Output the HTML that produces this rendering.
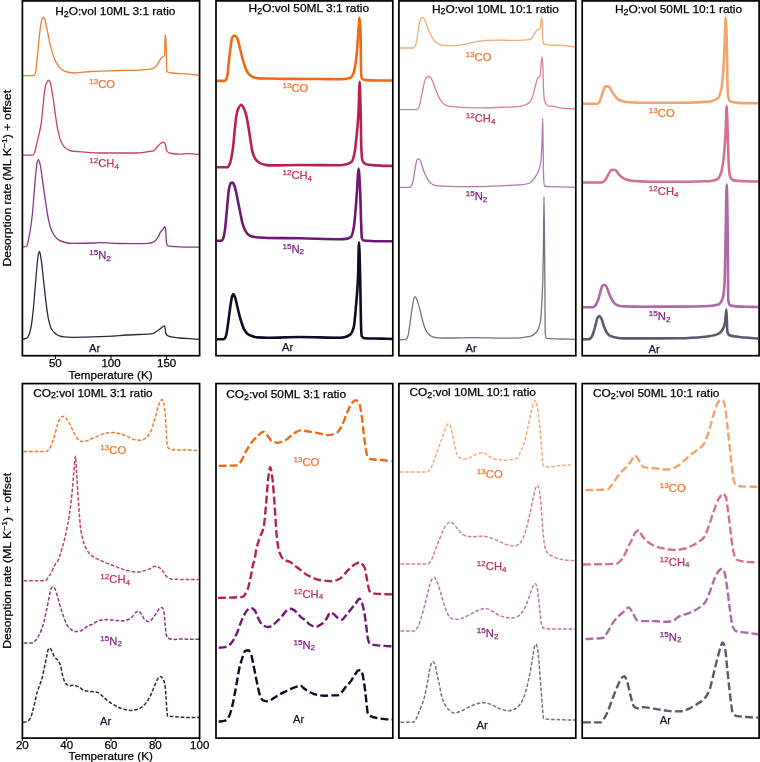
<!DOCTYPE html>
<html><head><meta charset="utf-8"><style>
html,body{margin:0;padding:0;background:#fff;}
body{width:760px;height:762px;overflow:hidden;font-family:"Liberation Sans",sans-serif;}
svg{display:block;will-change:transform;}
</style></head><body>
<svg width="760" height="762" viewBox="0 0 760 762">
<rect width="760" height="762" fill="#fff"/>
<defs>
<clipPath id="c0"><rect x="22.4" y="0.9" width="177.20" height="354.80"/></clipPath>
<clipPath id="c1"><rect x="216.0" y="0.9" width="176.80" height="354.80"/></clipPath>
<clipPath id="c2"><rect x="398.9" y="0.9" width="176.90" height="354.80"/></clipPath>
<clipPath id="c3"><rect x="582.2" y="0.9" width="176.90" height="354.80"/></clipPath>
<clipPath id="c4"><rect x="22.4" y="383.6" width="177.20" height="354.50"/></clipPath>
<clipPath id="c5"><rect x="216.0" y="383.6" width="176.80" height="354.50"/></clipPath>
<clipPath id="c6"><rect x="398.9" y="383.6" width="176.90" height="354.50"/></clipPath>
<clipPath id="c7"><rect x="582.2" y="383.6" width="176.90" height="354.50"/></clipPath>
</defs>
<path d="M22.40,75.70C26.17,75.70 29.93,75.70 33.70,75.70C34.33,75.70 34.97,74.34 35.60,72.50C36.07,71.14 36.53,65.01 37.00,60.60C37.43,56.50 37.87,51.23 38.30,46.80C38.77,42.03 39.23,36.89 39.70,33.00C40.17,29.11 40.63,25.16 41.10,22.90C41.57,20.64 42.03,18.23 42.50,17.80C42.87,17.46 43.23,17.20 43.60,17.20C44.00,17.20 44.40,18.25 44.80,19.20C45.23,20.23 45.67,22.75 46.10,24.70C46.73,27.55 47.37,30.75 48.00,33.90C48.60,36.88 49.20,40.46 49.80,43.10C50.43,45.88 51.07,48.22 51.70,50.40C52.60,53.49 53.50,56.54 54.40,58.70C55.33,60.94 56.27,62.69 57.20,64.20C58.10,65.65 59.00,67.01 59.90,67.90C61.13,69.12 62.37,70.11 63.60,70.70C64.83,71.29 66.07,71.75 67.30,72.00C69.87,72.51 72.43,73.00 75.00,73.00C80.33,73.00 85.67,71.80 91.00,71.50C98.90,71.06 106.80,70.81 114.70,70.60C122.60,70.39 130.50,70.38 138.40,70.10C142.37,69.96 146.33,69.77 150.30,69.20C152.27,68.92 154.23,67.87 156.20,66.30C157.37,65.37 158.53,62.00 159.70,60.40C160.73,58.98 161.77,57.64 162.80,56.80C163.37,56.34 163.93,56.53 164.50,55.70C164.73,55.36 164.97,35.76 165.20,35.50C165.37,35.31 165.53,35.20 165.70,35.20C165.93,35.20 166.17,47.15 166.40,55.00C166.53,59.49 166.67,70.71 166.80,71.00C167.37,72.22 167.93,72.33 168.50,72.50C169.53,72.80 170.57,72.90 171.60,73.00C176.33,73.48 181.07,73.52 185.80,73.90C190.20,74.25 194.60,74.83 199.00,75.30" fill="none" stroke="#f07c30" stroke-width="1.3" stroke-linejoin="round" clip-path="url(#c0)"/>
<path d="M22.40,155.10C26.00,155.10 29.60,155.10 33.20,155.10C33.77,155.10 34.33,153.26 34.90,151.70C35.50,150.04 36.10,146.15 36.70,143.60C37.47,140.35 38.23,137.82 39.00,134.40C39.77,130.98 40.53,127.94 41.30,122.80C41.87,119.00 42.43,111.98 43.00,106.60C43.57,101.22 44.13,93.79 44.70,90.50C45.30,87.01 45.90,84.23 46.50,83.00C47.20,81.57 47.90,80.20 48.60,80.20C49.23,80.20 49.87,81.81 50.50,83.50C51.07,85.01 51.63,89.46 52.20,92.80C52.80,96.33 53.40,100.16 54.00,104.30C54.57,108.21 55.13,113.19 55.70,117.00C56.47,122.15 57.23,127.41 58.00,130.90C58.97,135.29 59.93,139.08 60.90,141.30C62.07,143.98 63.23,145.97 64.40,147.10C66.13,148.77 67.87,150.07 69.60,150.50C72.40,151.19 75.20,151.45 78.00,151.70C85.33,152.35 92.67,153.00 100.00,153.00C108.77,153.00 117.53,153.00 126.30,153.00C130.87,153.00 135.43,152.97 140.00,152.90C142.63,152.86 145.27,152.09 147.90,151.70C149.73,151.43 151.57,151.42 153.40,150.90C154.20,150.67 155.00,149.35 155.80,148.50C156.83,147.41 157.87,145.98 158.90,145.00C159.70,144.24 160.50,143.38 161.30,143.00C162.10,142.62 162.90,142.20 163.70,142.20C164.23,142.20 164.77,143.09 165.30,144.20C165.67,144.96 166.03,148.85 166.40,149.70C167.07,151.24 167.73,152.14 168.40,152.50C169.47,153.07 170.53,153.36 171.60,153.50C174.23,153.85 176.87,154.10 179.50,154.10C182.13,154.10 184.77,153.70 187.40,153.70C191.27,153.70 195.13,154.10 199.00,154.30" fill="none" stroke="#c34266" stroke-width="1.3" stroke-linejoin="round" clip-path="url(#c0)"/>
<path d="M22.50,247.10C23.87,246.90 25.23,246.93 26.60,246.50C27.27,246.29 27.93,242.14 28.60,239.20C29.23,236.41 29.87,232.80 30.50,228.70C31.17,224.38 31.83,219.44 32.50,213.00C33.03,207.84 33.57,199.67 34.10,193.30C34.67,186.53 35.23,179.13 35.80,173.60C36.23,169.37 36.67,164.03 37.10,162.50C37.53,160.97 37.97,159.60 38.40,159.60C39.07,159.60 39.73,162.86 40.40,165.70C41.03,168.39 41.67,174.42 42.30,178.90C42.97,183.61 43.63,188.73 44.30,193.30C44.97,197.87 45.63,202.15 46.30,206.40C46.93,210.44 47.57,215.13 48.20,218.20C49.10,222.56 50.00,226.30 50.90,228.70C52.00,231.64 53.10,233.79 54.20,235.30C55.70,237.36 57.20,239.02 58.70,239.90C60.90,241.19 63.10,242.06 65.30,242.50C67.53,242.95 69.77,243.40 72.00,243.40C79.60,243.40 87.20,243.25 94.80,243.00C96.47,242.94 98.13,242.60 99.80,242.60C106.43,242.60 113.07,243.39 119.70,243.50C126.47,243.61 133.23,243.70 140.00,243.70C142.63,243.70 145.27,243.58 147.90,243.40C149.73,243.27 151.57,242.83 153.40,242.10C154.20,241.78 155.00,240.92 155.80,240.10C156.60,239.28 157.40,238.19 158.20,236.90C158.97,235.66 159.73,233.34 160.50,232.20C161.30,231.01 162.10,230.50 162.90,229.40C163.47,228.62 164.03,226.60 164.60,226.60C164.97,226.60 165.33,227.88 165.70,229.80C165.93,231.02 166.17,239.91 166.40,241.70C166.67,243.75 166.93,245.48 167.20,245.60C168.67,246.25 170.13,246.28 171.60,246.40C174.23,246.62 176.87,246.72 179.50,246.80C186.00,247.00 192.50,247.07 199.00,247.20" fill="none" stroke="#853989" stroke-width="1.3" stroke-linejoin="round" clip-path="url(#c0)"/>
<path d="M22.50,339.20C23.87,338.93 25.23,338.91 26.60,338.40C27.47,338.08 28.33,336.22 29.20,334.20C29.87,332.65 30.53,329.88 31.20,326.40C31.87,322.92 32.53,316.91 33.20,310.60C33.83,304.61 34.47,295.75 35.10,288.30C35.77,280.45 36.43,271.01 37.10,264.70C37.53,260.60 37.97,255.85 38.40,254.20C38.77,252.80 39.13,251.40 39.50,251.40C40.00,251.40 40.50,255.21 41.00,258.10C41.67,261.95 42.33,269.29 43.00,275.20C43.67,281.11 44.33,287.80 45.00,293.60C45.63,299.11 46.27,304.93 46.90,309.30C47.57,313.90 48.23,318.39 48.90,321.10C49.77,324.63 50.63,327.50 51.50,329.00C52.60,330.91 53.70,331.93 54.80,332.90C56.10,334.04 57.40,335.12 58.70,335.60C60.47,336.26 62.23,336.75 64.00,336.90C66.67,337.13 69.33,337.30 72.00,337.30C76.67,337.30 81.33,337.19 86.00,337.10C90.67,337.01 95.33,336.86 100.00,336.70C104.40,336.55 108.80,336.36 113.20,336.10C117.57,335.84 121.93,335.23 126.30,335.00C130.70,334.77 135.10,334.71 139.50,334.50C143.87,334.30 148.23,334.24 152.60,333.70C154.80,333.43 157.00,330.94 159.20,329.50C161.03,328.30 162.87,325.80 164.70,325.80C165.07,325.80 165.43,332.66 165.80,333.40C166.67,335.14 167.53,335.79 168.40,336.10C171.90,337.36 175.40,337.65 178.90,338.00C183.30,338.44 187.70,338.63 192.10,338.90C194.40,339.04 196.70,339.17 199.00,339.30" fill="none" stroke="#2c2740" stroke-width="1.3" stroke-linejoin="round" clip-path="url(#c0)"/>
<path d="M216.90,80.90C219.63,80.90 222.37,80.90 225.10,80.90C225.87,80.90 226.63,78.43 227.40,75.40C227.93,73.29 228.47,65.12 229.00,60.40C229.53,55.68 230.07,50.68 230.60,47.00C231.13,43.32 231.67,38.66 232.20,37.60C232.70,36.61 233.20,35.80 233.70,35.80C234.50,35.80 235.30,36.03 236.10,36.40C236.77,36.71 237.43,38.81 238.10,40.70C238.73,42.50 239.37,46.03 240.00,48.60C240.80,51.85 241.60,55.22 242.40,58.10C243.20,60.98 244.00,63.79 244.80,66.00C245.57,68.12 246.33,70.24 247.10,71.50C248.17,73.25 249.23,74.61 250.30,75.40C251.87,76.56 253.43,77.51 255.00,77.80C256.83,78.14 258.67,78.35 260.50,78.40C263.00,78.46 265.50,78.46 268.00,78.50C275.33,78.61 282.67,78.86 290.00,78.90C300.00,78.96 310.00,78.94 320.00,79.00C326.67,79.04 333.33,79.30 340.00,79.30C343.50,79.30 347.00,78.84 350.50,77.70C351.53,77.36 352.57,75.49 353.60,73.00C354.30,71.31 355.00,67.22 355.70,62.50C356.23,58.91 356.77,53.00 357.30,46.70C357.67,42.37 358.03,36.07 358.40,31.00C358.73,26.39 359.07,17.60 359.40,17.60C359.77,17.60 360.13,22.21 360.50,31.00C360.60,33.40 360.70,45.00 360.80,52.00C360.90,59.00 361.00,71.63 361.10,73.00C361.40,77.11 361.70,78.58 362.00,78.80C363.40,79.83 364.80,80.01 366.20,80.10C370.80,80.39 375.40,80.50 380.00,80.50C384.33,80.50 388.67,80.50 393.00,80.50" fill="none" stroke="#ee6a14" stroke-width="2.6" stroke-linejoin="round" clip-path="url(#c1)"/>
<path d="M216.90,167.30C220.40,167.30 223.90,167.30 227.40,167.30C228.20,167.30 229.00,165.63 229.80,163.90C230.80,161.74 231.80,155.82 232.80,149.10C233.47,144.62 234.13,135.68 234.80,129.40C235.27,125.00 235.73,119.33 236.20,116.70C236.87,112.94 237.53,110.17 238.20,108.80C239.20,106.74 240.20,104.80 241.20,104.80C242.00,104.80 242.80,106.43 243.60,107.80C244.43,109.23 245.27,111.66 246.10,114.70C246.90,117.62 247.70,122.83 248.50,127.50C249.17,131.39 249.83,136.21 250.50,140.30C251.17,144.39 251.83,149.78 252.50,152.10C253.47,155.47 254.43,157.63 255.40,159.00C256.73,160.89 258.07,162.21 259.40,162.90C261.37,163.92 263.33,164.59 265.30,164.90C266.87,165.15 268.43,165.40 270.00,165.40C280.00,165.40 290.00,165.00 300.00,165.00C313.33,165.00 326.67,165.30 340.00,165.30C342.20,165.30 344.40,164.76 346.60,164.20C348.33,163.76 350.07,163.22 351.80,161.60C352.67,160.79 353.53,157.57 354.40,153.70C355.07,150.72 355.73,144.29 356.40,138.00C357.07,131.71 357.73,125.38 358.40,114.40C358.83,107.26 359.27,81.80 359.70,81.80C360.03,81.80 360.37,100.49 360.70,114.40C360.90,122.74 361.10,142.75 361.30,147.20C361.63,154.62 361.97,159.55 362.30,160.30C363.60,163.21 364.90,163.92 366.20,164.20C370.80,165.20 375.40,165.38 380.00,165.60C384.33,165.80 388.67,165.87 393.00,166.00" fill="none" stroke="#b8214b" stroke-width="2.6" stroke-linejoin="round" clip-path="url(#c1)"/>
<path d="M217.00,240.70C218.57,240.70 220.13,240.70 221.70,240.70C222.30,240.70 222.90,239.13 223.50,237.50C223.97,236.23 224.43,233.30 224.90,230.10C225.37,226.90 225.83,221.28 226.30,216.40C226.77,211.52 227.23,205.40 227.70,200.70C228.13,196.34 228.57,190.87 229.00,188.80C229.63,185.77 230.27,183.10 230.90,182.90C231.50,182.71 232.10,182.60 232.70,182.60C233.30,182.60 233.90,184.48 234.50,186.00C235.13,187.61 235.77,190.60 236.40,193.40C237.00,196.06 237.60,199.62 238.20,202.60C238.83,205.75 239.47,208.65 240.10,211.80C240.70,214.78 241.30,218.63 241.90,221.00C242.67,224.03 243.43,226.56 244.20,228.30C245.27,230.72 246.33,232.81 247.40,233.80C248.93,235.22 250.47,236.27 252.00,236.60C254.47,237.13 256.93,237.30 259.40,237.50C262.27,237.73 265.13,237.95 268.00,238.00C278.67,238.20 289.33,238.16 300.00,238.30C313.33,238.47 326.67,239.20 340.00,239.20C341.97,239.20 343.93,239.08 345.90,238.90C347.67,238.74 349.43,238.15 351.20,236.70C352.00,236.04 352.80,232.57 353.60,228.50C354.17,225.61 354.73,219.16 355.30,213.10C355.90,206.68 356.50,197.90 357.10,189.50C357.57,182.97 358.03,168.60 358.50,168.60C359.03,168.60 359.57,179.12 360.10,189.50C360.40,195.34 360.70,210.79 361.00,219.00C361.27,226.30 361.53,237.08 361.80,237.90C362.40,239.74 363.00,240.43 363.60,240.50C369.07,241.11 374.53,241.20 380.00,241.20C384.33,241.20 388.67,241.20 393.00,241.20" fill="none" stroke="#701674" stroke-width="2.6" stroke-linejoin="round" clip-path="url(#c1)"/>
<path d="M217.00,339.30C219.17,339.30 221.33,339.30 223.50,339.30C224.30,339.30 225.10,337.94 225.90,336.20C226.40,335.11 226.90,331.37 227.40,328.30C227.93,325.03 228.47,320.43 229.00,316.50C229.53,312.57 230.07,308.04 230.60,304.70C231.13,301.36 231.67,297.33 232.20,296.00C232.60,295.00 233.00,294.00 233.40,294.00C233.90,294.00 234.40,295.55 234.90,296.80C235.57,298.46 236.23,301.97 236.90,304.70C237.70,307.97 238.50,311.86 239.30,314.90C240.07,317.81 240.83,320.52 241.60,322.80C242.40,325.18 243.20,327.63 244.00,329.10C245.03,331.00 246.07,332.52 247.10,333.40C248.43,334.54 249.77,335.31 251.10,335.80C253.20,336.57 255.30,337.25 257.40,337.40C260.93,337.65 264.47,337.80 268.00,337.80C278.67,337.80 289.33,337.00 300.00,337.00C313.33,337.00 326.67,337.70 340.00,337.70C341.43,337.70 342.87,337.46 344.30,337.20C346.23,336.85 348.17,336.09 350.10,334.60C351.30,333.68 352.50,331.56 353.70,327.40C354.43,324.86 355.17,315.29 355.90,307.20C356.60,299.48 357.30,293.00 358.00,278.30C358.33,271.30 358.67,242.40 359.00,242.40C359.40,242.40 359.80,261.66 360.20,278.30C360.43,288.01 360.67,314.40 360.90,321.60C361.13,328.80 361.37,335.58 361.60,336.00C362.57,337.74 363.53,338.14 364.50,338.20C369.67,338.53 374.83,338.45 380.00,338.60C384.33,338.72 388.67,338.87 393.00,339.00" fill="none" stroke="#0f0a26" stroke-width="2.6" stroke-linejoin="round" clip-path="url(#c1)"/>
<path d="M400.00,48.00C404.40,48.00 408.80,48.00 413.20,48.00C413.83,48.00 414.47,47.18 415.10,46.20C415.67,45.33 416.23,42.39 416.80,39.60C417.23,37.46 417.67,33.83 418.10,31.10C418.53,28.37 418.97,25.14 419.40,23.20C419.83,21.26 420.27,19.13 420.70,18.60C421.27,17.91 421.83,17.40 422.40,17.40C422.93,17.40 423.47,18.00 424.00,18.60C424.57,19.24 425.13,21.08 425.70,22.50C426.33,24.09 426.97,26.20 427.60,27.80C428.27,29.48 428.93,30.99 429.60,32.40C430.27,33.81 430.93,35.11 431.60,36.30C432.27,37.49 432.93,38.69 433.60,39.60C434.47,40.79 435.33,41.90 436.20,42.60C437.07,43.30 437.93,43.86 438.80,44.20C440.13,44.72 441.47,45.21 442.80,45.30C445.80,45.50 448.80,45.60 451.80,45.60C455.77,45.60 459.73,45.02 463.70,44.50C467.63,43.98 471.57,42.41 475.50,41.80C479.47,41.18 483.43,40.57 487.40,40.40C491.33,40.24 495.27,40.10 499.20,40.10C503.17,40.10 507.13,40.40 511.10,40.40C514.07,40.40 517.03,40.36 520.00,40.30C522.20,40.26 524.40,40.12 526.60,39.90C528.13,39.75 529.67,39.54 531.20,38.90C531.83,38.63 532.47,37.18 533.10,36.20C533.97,34.85 534.83,32.79 535.70,31.70C536.37,30.86 537.03,30.14 537.70,29.70C538.37,29.26 539.03,29.34 539.70,28.70C540.03,28.38 540.37,26.88 540.70,25.10C540.97,23.68 541.23,17.40 541.50,17.40C541.77,17.40 542.03,19.43 542.30,23.10C542.40,24.47 542.50,34.37 542.60,36.20C542.83,40.48 543.07,43.22 543.30,43.50C543.83,44.14 544.37,44.26 544.90,44.40C546.43,44.80 547.97,45.02 549.50,45.10C553.00,45.28 556.50,45.25 560.00,45.40C565.33,45.63 570.67,46.47 576.00,47.00" fill="none" stroke="#f6aa78" stroke-width="1.3" stroke-linejoin="round" clip-path="url(#c2)"/>
<path d="M400.00,109.70C405.40,109.70 410.80,109.70 416.20,109.70C416.87,109.70 417.53,109.10 418.20,108.40C418.73,107.84 419.27,106.24 419.80,104.50C420.33,102.76 420.87,99.26 421.40,96.60C421.97,93.77 422.53,90.57 423.10,88.00C423.63,85.58 424.17,82.98 424.70,81.40C425.27,79.72 425.83,77.93 426.40,77.50C427.17,76.92 427.93,76.50 428.70,76.50C429.37,76.50 430.03,76.96 430.70,77.50C431.33,78.01 431.97,79.94 432.60,81.40C433.27,82.94 433.93,84.93 434.60,86.70C435.27,88.47 435.93,90.36 436.60,92.00C437.27,93.64 437.93,95.26 438.60,96.60C439.47,98.34 440.33,100.08 441.20,101.20C442.30,102.62 443.40,103.85 444.50,104.50C445.80,105.27 447.10,105.87 448.40,106.10C450.60,106.49 452.80,106.66 455.00,106.80C463.63,107.34 472.27,107.80 480.90,107.80C488.80,107.80 496.70,107.49 504.60,107.20C509.73,107.01 514.87,106.85 520.00,106.30C521.70,106.12 523.40,105.61 525.10,105.00C526.53,104.49 527.97,103.77 529.40,102.50C530.23,101.76 531.07,100.40 531.90,98.60C532.50,97.31 533.10,94.88 533.70,92.70C534.27,90.64 534.83,87.92 535.40,85.80C535.97,83.68 536.53,81.46 537.10,79.90C537.50,78.80 537.90,77.35 538.30,77.10C538.90,76.73 539.50,76.94 540.10,76.50C540.37,76.30 540.63,69.90 540.90,67.10C541.27,63.26 541.63,56.80 542.00,56.80C542.30,56.80 542.60,61.72 542.90,67.10C543.10,70.68 543.30,84.32 543.50,88.40C543.77,93.83 544.03,98.31 544.30,99.50C545.03,102.78 545.77,103.89 546.50,104.60C547.47,105.53 548.43,106.30 549.40,106.30C550.40,106.30 551.40,106.10 552.40,106.10C554.93,106.10 557.47,107.61 560.00,107.90C565.33,108.51 570.67,108.63 576.00,109.00" fill="none" stroke="#da7e98" stroke-width="1.3" stroke-linejoin="round" clip-path="url(#c2)"/>
<path d="M400.00,187.40C403.30,187.40 406.60,187.40 409.90,187.40C410.43,187.40 410.97,186.60 411.50,185.80C412.07,184.95 412.63,182.87 413.20,180.50C413.63,178.69 414.07,175.23 414.50,172.60C414.93,169.97 415.37,166.72 415.80,164.70C416.23,162.68 416.67,160.31 417.10,159.80C417.53,159.29 417.97,158.90 418.40,158.90C418.97,158.90 419.53,159.45 420.10,160.10C420.63,160.71 421.17,163.14 421.70,164.70C422.37,166.66 423.03,168.96 423.70,170.70C424.37,172.44 425.03,173.85 425.70,175.30C426.33,176.67 426.97,178.16 427.60,179.20C428.50,180.67 429.40,182.04 430.30,182.80C431.40,183.73 432.50,184.44 433.60,184.80C435.13,185.30 436.67,185.66 438.20,185.80C442.13,186.16 446.07,186.31 450.00,186.40C457.60,186.57 465.20,186.70 472.80,186.70C481.87,186.70 490.93,186.15 500.00,185.80C506.67,185.54 513.33,185.42 520.00,184.90C523.33,184.64 526.67,184.19 530.00,183.00C531.50,182.47 533.00,180.03 534.50,178.00C535.80,176.24 537.10,174.41 538.40,171.30C539.13,169.55 539.87,167.88 540.60,163.50C540.97,161.31 541.33,155.80 541.70,149.00C541.90,145.29 542.10,138.51 542.30,132.30C542.43,128.16 542.57,118.50 542.70,118.50C542.83,118.50 542.97,134.81 543.10,143.40C543.27,154.14 543.43,173.81 543.60,176.90C543.90,182.46 544.20,185.65 544.50,185.80C546.00,186.55 547.50,186.64 549.00,186.70C552.67,186.84 556.33,186.82 560.00,186.90C565.33,187.01 570.67,187.17 576.00,187.30" fill="none" stroke="#b876b1" stroke-width="1.3" stroke-linejoin="round" clip-path="url(#c2)"/>
<path d="M400.00,339.60C401.93,339.60 403.87,339.60 405.80,339.60C406.50,339.60 407.20,338.03 407.90,336.20C408.40,334.89 408.90,330.72 409.40,327.50C409.87,324.50 410.33,320.65 410.80,317.40C411.30,313.92 411.80,310.37 412.30,307.30C412.77,304.44 413.23,300.68 413.70,299.40C414.20,298.03 414.70,296.70 415.20,296.70C415.80,296.70 416.40,298.70 417.00,300.10C417.70,301.73 418.40,304.15 419.10,306.60C419.70,308.70 420.30,311.41 420.90,313.80C421.63,316.72 422.37,320.02 423.10,322.50C423.83,324.98 424.57,327.41 425.30,329.00C426.23,331.02 427.17,332.72 428.10,333.70C429.57,335.23 431.03,336.47 432.50,336.90C434.17,337.39 435.83,337.74 437.50,337.80C441.67,337.94 445.83,338.00 450.00,338.00C457.60,338.00 465.20,337.60 472.80,337.60C485.27,337.60 497.73,338.20 510.20,338.20C516.87,338.20 523.53,337.58 530.20,336.30C532.23,335.91 534.27,334.51 536.30,332.30C537.63,330.85 538.97,328.34 540.30,322.10C541.00,318.82 541.70,307.46 542.40,291.60C542.73,284.05 543.07,270.31 543.40,251.00C543.60,239.41 543.80,196.60 544.00,196.60C544.20,196.60 544.40,229.95 544.60,251.00C544.73,265.03 544.87,281.14 545.00,300.00C545.07,309.43 545.13,331.45 545.20,332.30C545.60,337.38 546.00,338.35 546.40,338.40C550.93,338.95 555.47,338.85 560.00,339.00C565.33,339.17 570.67,339.27 576.00,339.40" fill="none" stroke="#747282" stroke-width="1.3" stroke-linejoin="round" clip-path="url(#c2)"/>
<path d="M582.80,103.80C587.60,103.80 592.40,103.80 597.20,103.80C598.00,103.80 598.80,102.86 599.60,101.80C600.23,100.96 600.87,98.21 601.50,96.30C602.17,94.29 602.83,91.53 603.50,90.00C604.17,88.47 604.83,86.40 605.50,86.40C606.03,86.40 606.57,86.40 607.10,86.40C607.73,86.40 608.37,86.57 609.00,86.80C609.80,87.09 610.60,89.55 611.40,90.80C612.47,92.47 613.53,94.12 614.60,95.50C615.63,96.84 616.67,98.39 617.70,99.10C619.03,100.02 620.37,100.60 621.70,101.00C623.27,101.47 624.83,101.84 626.40,102.00C629.03,102.27 631.67,102.38 634.30,102.50C637.20,102.63 640.10,102.80 643.00,102.80C655.33,102.80 667.67,102.80 680.00,102.80C688.33,102.80 696.67,102.40 705.00,101.90C707.20,101.77 709.40,101.59 711.60,101.20C713.77,100.82 715.93,99.91 718.10,97.90C719.20,96.88 720.30,93.70 721.40,88.70C722.07,85.67 722.73,78.12 723.40,69.10C723.83,63.23 724.27,52.57 724.70,42.80C725.03,35.28 725.37,17.60 725.70,17.60C726.07,17.60 726.43,29.55 726.80,42.80C726.97,48.82 727.13,68.89 727.30,75.60C727.53,85.00 727.77,93.81 728.00,95.30C728.63,99.34 729.27,100.89 729.90,101.20C732.53,102.49 735.17,102.79 737.80,102.90C744.53,103.18 751.27,103.17 758.00,103.30" fill="none" stroke="#f5a36c" stroke-width="2.6" stroke-linejoin="round" clip-path="url(#c3)"/>
<path d="M582.50,182.50C588.93,182.50 595.37,182.50 601.80,182.50C602.60,182.50 603.40,181.90 604.20,181.30C605.00,180.70 605.80,179.13 606.60,177.80C607.37,176.53 608.13,174.63 608.90,173.40C609.70,172.12 610.50,170.31 611.30,170.10C611.97,169.92 612.63,169.80 613.30,169.80C614.10,169.80 614.90,170.02 615.70,170.30C616.60,170.62 617.50,172.78 618.40,173.80C619.47,175.01 620.53,176.20 621.60,177.00C622.90,177.97 624.20,178.83 625.50,179.30C627.33,179.97 629.17,180.48 631.00,180.70C633.63,181.02 636.27,181.17 638.90,181.30C642.60,181.48 646.30,181.67 650.00,181.70C660.00,181.77 670.00,181.80 680.00,181.80C688.33,181.80 696.67,181.56 705.00,181.30C707.07,181.24 709.13,181.17 711.20,181.00C713.30,180.83 715.40,180.31 717.50,179.20C718.73,178.55 719.97,175.93 721.20,172.30C722.03,169.85 722.87,164.28 723.70,157.30C724.33,152.00 724.97,143.89 725.60,132.40C725.93,126.35 726.27,106.00 726.60,106.00C726.97,106.00 727.33,122.43 727.70,132.40C728.03,141.46 728.37,158.35 728.70,163.60C729.10,169.91 729.50,175.03 729.90,176.00C731.17,179.06 732.43,180.18 733.70,180.40C737.47,181.06 741.23,181.20 745.00,181.30C749.33,181.41 753.67,181.43 758.00,181.50" fill="none" stroke="#d6708c" stroke-width="2.6" stroke-linejoin="round" clip-path="url(#c3)"/>
<path d="M582.50,307.20C586.03,307.20 589.57,307.20 593.10,307.20C594.03,307.20 594.97,306.04 595.90,304.90C596.67,303.97 597.43,301.91 598.20,299.80C598.97,297.69 599.73,294.03 600.50,291.50C601.10,289.52 601.70,286.61 602.30,286.00C602.97,285.32 603.63,284.80 604.30,284.80C605.00,284.80 605.70,285.64 606.40,286.50C607.17,287.44 607.93,290.63 608.70,292.50C609.63,294.78 610.57,297.24 611.50,298.90C612.57,300.79 613.63,302.62 614.70,303.50C616.07,304.62 617.43,305.55 618.80,305.80C620.67,306.15 622.53,306.34 624.40,306.40C630.60,306.60 636.80,306.70 643.00,306.70C655.33,306.70 667.67,306.66 680.00,306.60C688.33,306.56 696.67,306.50 705.00,306.30C709.47,306.19 713.93,305.78 718.40,304.50C719.90,304.07 721.40,302.12 722.90,297.80C723.47,296.17 724.03,291.40 724.60,282.10C724.90,277.18 725.20,255.83 725.50,242.00C725.90,223.56 726.30,184.50 726.70,184.50C727.07,184.50 727.43,211.60 727.80,242.00C727.93,253.05 728.07,299.23 728.20,300.00C729.03,304.80 729.87,305.44 730.70,305.60C735.47,306.51 740.23,306.53 745.00,306.70C749.33,306.85 753.67,306.90 758.00,307.00" fill="none" stroke="#b067a8" stroke-width="2.6" stroke-linejoin="round" clip-path="url(#c3)"/>
<path d="M582.50,339.30C584.50,339.30 586.50,339.30 588.50,339.30C589.43,339.30 590.37,338.46 591.30,337.50C592.07,336.71 592.83,334.21 593.60,332.00C594.37,329.79 595.13,326.45 595.90,323.70C596.50,321.55 597.10,318.05 597.70,317.30C598.27,316.59 598.83,316.00 599.40,316.00C600.07,316.00 600.73,317.47 601.40,318.70C602.17,320.12 602.93,323.56 603.70,325.60C604.60,327.99 605.50,330.61 606.40,332.00C607.50,333.69 608.60,335.09 609.70,335.70C610.90,336.36 612.10,336.70 613.30,337.00C615.47,337.55 617.63,338.11 619.80,338.20C622.83,338.32 625.87,338.40 628.90,338.40C633.60,338.40 638.30,338.40 643.00,338.40C655.33,338.40 667.67,338.37 680.00,338.30C688.33,338.25 696.67,337.63 705.00,336.80C709.47,336.35 713.93,335.71 718.40,333.90C719.90,333.29 721.40,331.54 722.90,329.00C723.63,327.76 724.37,325.89 725.10,322.30C725.53,320.18 725.97,309.30 726.40,309.30C726.70,309.30 727.00,330.18 727.30,331.30C728.07,334.15 728.83,335.04 729.60,335.30C734.73,337.01 739.87,336.99 745.00,337.50C749.33,337.93 753.67,338.17 758.00,338.50" fill="none" stroke="#5c596c" stroke-width="2.6" stroke-linejoin="round" clip-path="url(#c3)"/>
<path d="M23.60,451.60C30.90,451.60 38.20,451.60 45.50,451.60C46.73,451.60 47.97,450.54 49.20,449.30C50.13,448.36 51.07,445.23 52.00,442.90C52.90,440.66 53.80,438.44 54.70,435.50C55.47,432.99 56.23,428.82 57.00,426.30C57.77,423.78 58.53,421.26 59.30,419.90C60.07,418.54 60.83,417.26 61.60,416.90C62.43,416.51 63.27,416.20 64.10,416.20C64.97,416.20 65.83,417.80 66.70,418.90C67.63,420.08 68.57,421.79 69.50,423.50C70.40,425.15 71.30,427.28 72.20,429.10C73.13,430.98 74.07,432.93 75.00,434.60C75.93,436.27 76.87,438.33 77.80,439.20C79.00,440.32 80.20,441.50 81.40,441.50C82.93,441.50 84.47,441.26 86.00,441.00C87.87,440.69 89.73,439.47 91.60,438.70C93.43,437.94 95.27,437.17 97.10,436.40C98.93,435.63 100.77,434.67 102.60,434.10C104.07,433.65 105.53,433.17 107.00,433.00C108.80,432.79 110.60,432.60 112.40,432.60C114.83,432.60 117.27,433.18 119.70,433.70C122.17,434.23 124.63,435.41 127.10,436.40C129.57,437.39 132.03,439.32 134.50,439.70C136.63,440.03 138.77,440.30 140.90,440.30C142.73,440.30 144.57,438.83 146.40,437.40C147.93,436.21 149.47,433.92 151.00,430.90C151.93,429.06 152.87,425.65 153.80,422.60C154.57,420.10 155.33,417.07 156.10,414.30C156.87,411.53 157.63,408.21 158.40,406.00C159.17,403.79 159.93,401.17 160.70,400.50C161.23,400.03 161.77,399.60 162.30,399.60C162.83,399.60 163.37,401.93 163.90,404.20C164.37,406.19 164.83,410.19 165.30,415.30C165.60,418.59 165.90,424.79 166.20,430.00C166.43,434.05 166.67,441.42 166.90,442.90C167.43,446.29 167.97,448.06 168.50,448.40C170.03,449.39 171.57,449.75 173.10,449.80C177.33,449.95 181.57,449.91 185.80,450.00C190.20,450.10 194.60,450.33 199.00,450.50" fill="none" stroke="#f07c30" stroke-width="1.5" stroke-linejoin="round" stroke-dasharray="3.7 1.8" clip-path="url(#c4)"/>
<path d="M23.70,580.70C30.77,580.70 37.83,580.70 44.90,580.70C46.57,580.70 48.23,577.42 49.90,575.00C51.57,572.58 53.23,567.78 54.90,565.00C55.90,563.33 56.90,562.53 57.90,560.60C59.47,557.58 61.03,551.93 62.60,546.40C64.27,540.52 65.93,533.93 67.60,525.10C68.77,518.92 69.93,511.10 71.10,501.40C72.00,493.92 72.90,482.43 73.80,473.00C74.33,467.41 74.87,456.30 75.40,456.30C75.80,456.30 76.20,467.11 76.60,473.00C77.20,481.84 77.80,493.23 78.40,501.40C79.20,512.29 80.00,524.91 80.80,529.80C82.23,538.57 83.67,543.05 85.10,546.40C86.40,549.44 87.70,551.41 89.00,553.00C90.10,554.35 91.20,555.43 92.30,556.20C95.63,558.52 98.97,559.71 102.30,561.20C106.43,563.05 110.57,564.67 114.70,566.20C118.87,567.75 123.03,569.64 127.20,570.50C130.53,571.19 133.87,572.00 137.20,572.00C140.53,572.00 143.87,570.92 147.20,570.00C150.10,569.20 153.00,566.20 155.90,566.20C157.57,566.20 159.23,567.51 160.90,568.70C162.97,570.18 165.03,575.66 167.10,577.00C168.77,578.08 170.43,579.13 172.10,579.20C175.40,579.34 178.70,579.40 182.00,579.40C187.43,579.40 192.87,579.40 198.30,579.40" fill="none" stroke="#c34266" stroke-width="1.5" stroke-linejoin="round" stroke-dasharray="3.7 1.8" clip-path="url(#c4)"/>
<path d="M23.70,642.90C26.50,642.90 29.30,642.90 32.10,642.90C33.33,642.90 34.57,641.51 35.80,640.30C36.87,639.25 37.93,637.21 39.00,635.20C39.93,633.44 40.87,631.31 41.80,628.80C42.57,626.74 43.33,624.33 44.10,621.40C44.70,619.11 45.30,615.93 45.90,613.10C46.53,610.11 47.17,607.05 47.80,603.90C48.40,600.92 49.00,597.25 49.60,594.70C50.23,592.01 50.87,588.41 51.50,587.80C52.10,587.23 52.70,586.80 53.30,586.80C53.90,586.80 54.50,588.10 55.10,589.20C55.90,590.66 56.70,593.94 57.50,596.60C58.27,599.15 59.03,602.31 59.80,604.90C60.57,607.49 61.33,609.91 62.10,612.20C62.87,614.49 63.63,616.72 64.40,618.70C65.30,621.03 66.20,623.69 67.10,625.10C68.33,627.03 69.57,628.43 70.80,629.30C72.33,630.38 73.87,631.60 75.40,631.60C76.93,631.60 78.47,631.38 80.00,631.10C81.53,630.82 83.07,629.32 84.60,628.30C85.83,627.48 87.07,626.12 88.30,625.60C89.53,625.08 90.77,625.00 92.00,624.50C93.30,623.97 94.60,622.57 95.90,622.00C97.87,621.14 99.83,620.33 101.80,620.10C104.20,619.82 106.60,619.60 109.00,619.60C111.37,619.60 113.73,620.35 116.10,620.50C118.47,620.65 120.83,620.80 123.20,620.80C125.17,620.80 127.13,620.10 129.10,619.30C130.30,618.81 131.50,617.53 132.70,616.30C133.67,615.31 134.63,613.18 135.60,612.50C136.50,611.87 137.40,611.20 138.30,611.20C139.17,611.20 140.03,612.45 140.90,613.40C142.10,614.72 143.30,618.25 144.50,619.30C145.87,620.49 147.23,621.70 148.60,621.70C150.00,621.70 151.40,619.61 152.80,618.10C154.17,616.63 155.53,614.05 156.90,612.20C158.10,610.58 159.30,607.60 160.50,607.60C161.10,607.60 161.70,607.67 162.30,607.80C162.90,607.93 163.50,610.02 164.10,612.80C164.47,614.50 164.83,621.02 165.20,624.60C165.60,628.50 166.00,634.16 166.40,635.30C167.00,637.02 167.60,637.95 168.20,638.20C170.17,639.02 172.13,639.40 174.10,639.40C176.07,639.40 178.03,639.10 180.00,639.10C186.33,639.10 192.67,639.17 199.00,639.20" fill="none" stroke="#853989" stroke-width="1.5" stroke-linejoin="round" stroke-dasharray="3.7 1.8" clip-path="url(#c4)"/>
<path d="M23.10,722.40C24.60,722.03 26.10,721.94 27.60,721.30C28.53,720.90 29.47,719.68 30.40,718.10C31.13,716.86 31.87,713.95 32.60,711.40C33.33,708.85 34.07,705.57 34.80,702.50C35.57,699.29 36.33,695.14 37.10,692.50C38.03,689.28 38.97,687.34 39.90,684.60C40.63,682.45 41.37,680.57 42.10,677.90C42.83,675.23 43.57,671.35 44.30,667.90C45.07,664.30 45.83,660.28 46.60,656.70C47.13,654.21 47.67,650.29 48.20,649.50C48.77,648.66 49.33,648.00 49.90,648.00C50.57,648.00 51.23,649.97 51.90,651.20C52.73,652.73 53.57,655.51 54.40,656.70C55.50,658.27 56.60,658.59 57.70,660.10C58.63,661.38 59.57,663.07 60.50,665.70C61.23,667.77 61.97,673.09 62.70,675.70C63.47,678.43 64.23,681.32 65.00,682.40C66.30,684.23 67.60,685.80 68.90,685.80C70.37,685.80 71.83,685.20 73.30,685.20C75.17,685.20 77.03,686.11 78.90,686.90C80.77,687.69 82.63,690.41 84.50,690.80C86.73,691.27 88.97,691.32 91.20,691.60C93.43,691.88 95.67,691.94 97.90,692.50C98.77,692.72 99.63,693.63 100.50,694.30C102.53,695.88 104.57,698.29 106.60,699.90C108.80,701.65 111.00,703.22 113.20,704.50C115.83,706.03 118.47,707.60 121.10,708.40C124.17,709.33 127.23,710.40 130.30,710.40C132.93,710.40 135.57,709.82 138.20,709.10C140.37,708.51 142.53,706.60 144.70,704.50C146.47,702.78 148.23,699.86 150.00,696.60C151.30,694.20 152.60,690.33 153.90,687.40C155.23,684.40 156.57,680.47 157.90,678.80C158.77,677.71 159.63,676.40 160.50,676.40C161.40,676.40 162.30,677.90 163.20,679.50C163.83,680.63 164.47,682.50 165.10,686.10C165.43,688.00 165.77,693.22 166.10,697.90C166.33,701.17 166.57,707.43 166.80,709.70C167.13,712.95 167.47,716.26 167.80,716.30C169.77,716.56 171.73,716.49 173.70,716.60C177.63,716.83 181.57,717.30 185.50,717.40C190.00,717.51 194.50,717.53 199.00,717.60" fill="none" stroke="#2c2740" stroke-width="1.5" stroke-linejoin="round" stroke-dasharray="3.7 1.8" clip-path="url(#c4)"/>
<path d="M218.60,465.90C224.90,465.67 231.20,465.77 237.50,465.20C238.70,465.09 239.90,462.90 241.10,461.20C242.67,458.98 244.23,454.52 245.80,451.70C247.77,448.16 249.73,444.63 251.70,442.20C253.67,439.77 255.63,438.03 257.60,436.30C259.60,434.54 261.60,431.60 263.60,431.60C264.77,431.60 265.93,433.81 267.10,435.10C268.67,436.83 270.23,440.26 271.80,441.00C273.80,441.95 275.80,442.70 277.80,442.70C280.57,442.70 283.33,441.18 286.10,439.80C288.47,438.62 290.83,435.36 293.20,433.90C295.57,432.44 297.93,430.40 300.30,430.40C303.43,430.40 306.57,431.12 309.70,431.60C312.87,432.08 316.03,432.82 319.20,433.40C322.37,433.98 325.53,435.10 328.70,435.10C331.47,435.10 334.23,434.11 337.00,432.70C338.97,431.70 340.93,427.18 342.90,423.30C344.47,420.21 346.03,414.78 347.60,411.40C349.20,407.95 350.80,403.92 352.40,402.40C353.57,401.29 354.73,400.10 355.90,400.10C357.10,400.10 358.30,401.90 359.50,404.30C360.27,405.83 361.03,411.20 361.80,416.20C362.60,421.42 363.40,431.93 364.20,437.50C365.40,445.85 366.60,456.53 367.80,457.60C368.97,458.64 370.13,459.13 371.30,459.30C374.47,459.76 377.63,459.72 380.80,460.00C384.37,460.32 387.93,460.80 391.50,461.20" fill="none" stroke="#ee6a14" stroke-width="2.4" stroke-linejoin="round" stroke-dasharray="7.9 3.2" clip-path="url(#c5)"/>
<path d="M218.00,597.90C226.13,597.57 234.27,597.72 242.40,596.90C244.07,596.73 245.73,593.45 247.40,589.90C248.63,587.27 249.87,580.54 251.10,575.00C251.93,571.26 252.77,564.12 253.60,562.50C253.77,562.18 253.93,562.13 254.10,561.80C254.87,560.28 255.63,552.04 256.40,548.80C257.60,543.72 258.80,540.51 260.00,537.00C261.20,533.49 262.40,532.64 263.60,527.50C264.37,524.22 265.13,514.17 265.90,506.20C266.70,497.88 267.50,483.69 268.30,477.70C268.93,472.96 269.57,467.10 270.20,467.10C270.90,467.10 271.60,472.79 272.30,477.70C273.10,483.32 273.90,495.56 274.70,506.20C275.33,514.62 275.97,528.52 276.60,534.60C277.40,542.28 278.20,548.80 279.00,551.20C280.57,555.91 282.13,558.45 283.70,559.50C285.80,560.90 287.90,560.92 290.00,562.00C292.43,563.26 294.87,565.66 297.30,567.50C300.60,569.99 303.90,573.25 307.20,575.00C311.37,577.21 315.53,579.35 319.70,580.00C323.87,580.65 328.03,581.20 332.20,581.20C334.70,581.20 337.20,579.96 339.70,578.70C342.17,577.46 344.63,573.54 347.10,571.20C349.60,568.83 352.10,565.85 354.60,564.50C356.27,563.60 357.93,562.50 359.60,562.50C361.27,562.50 362.93,564.50 364.60,567.50C365.43,569.00 366.27,576.06 367.10,580.00C367.93,583.94 368.77,590.41 369.60,591.20C371.27,592.79 372.93,593.44 374.60,593.60C380.40,594.17 386.20,594.13 392.00,594.40" fill="none" stroke="#b8214b" stroke-width="2.4" stroke-linejoin="round" stroke-dasharray="7.9 3.2" clip-path="url(#c5)"/>
<path d="M218.70,647.80C220.83,647.57 222.97,647.50 225.10,647.10C226.67,646.81 228.23,645.87 229.80,644.70C231.00,643.80 232.20,641.89 233.40,640.00C234.60,638.11 235.80,635.64 237.00,632.90C238.17,630.23 239.33,626.31 240.50,623.40C241.70,620.41 242.90,617.29 244.10,615.10C245.27,612.97 246.43,610.68 247.60,609.80C248.80,608.90 250.00,608.00 251.20,608.00C252.37,608.00 253.53,609.17 254.70,610.40C255.70,611.46 256.70,614.80 257.70,616.90C258.67,618.93 259.63,621.59 260.60,622.80C261.80,624.31 263.00,625.53 264.20,626.00C265.57,626.53 266.93,627.00 268.30,627.00C269.70,627.00 271.10,626.00 272.50,625.20C274.07,624.31 275.63,622.56 277.20,621.10C278.80,619.61 280.40,618.11 282.00,616.30C283.37,614.75 284.73,612.04 286.10,611.00C287.47,609.96 288.83,608.80 290.20,608.80C291.40,608.80 292.60,609.27 293.80,609.80C294.97,610.31 296.13,612.23 297.30,613.40C298.90,615.01 300.50,616.95 302.10,618.10C303.00,618.75 303.90,619.05 304.80,619.70C306.43,620.88 308.07,623.56 309.70,624.50C311.70,625.65 313.70,626.90 315.70,626.90C317.73,626.90 319.77,625.31 321.80,623.90C323.40,622.79 325.00,620.63 326.60,618.50C327.83,616.86 329.07,612.60 330.30,612.60C331.50,612.60 332.70,613.46 333.90,614.20C335.10,614.94 336.30,617.06 337.50,617.80C338.93,618.69 340.37,619.70 341.80,619.70C343.20,619.70 344.60,616.97 346.00,615.40C347.60,613.60 349.20,611.40 350.80,609.40C352.43,607.36 354.07,605.25 355.70,603.30C357.00,601.75 358.30,598.80 359.60,598.80C360.30,598.80 361.00,600.55 361.70,602.10C362.53,603.94 363.37,607.64 364.20,611.80C364.80,614.80 365.40,619.50 366.00,623.90C366.60,628.30 367.20,635.96 367.80,638.40C368.40,640.84 369.00,642.90 369.60,643.30C371.43,644.54 373.27,644.84 375.10,645.10C378.30,645.55 381.50,645.69 384.70,645.90C387.13,646.06 389.57,646.17 392.00,646.30" fill="none" stroke="#701674" stroke-width="2.4" stroke-linejoin="round" stroke-dasharray="7.9 3.2" clip-path="url(#c5)"/>
<path d="M218.70,721.60C219.07,721.57 219.43,721.54 219.80,721.50C221.57,721.30 223.33,721.14 225.10,720.60C226.50,720.17 227.90,718.24 229.30,715.80C230.27,714.12 231.23,710.21 232.20,706.40C233.00,703.24 233.80,698.64 234.60,694.50C235.40,690.36 236.20,685.94 237.00,681.50C237.77,677.24 238.53,671.78 239.30,668.40C240.30,663.99 241.30,660.59 242.30,657.80C243.30,655.01 244.30,651.28 245.30,650.90C246.27,650.53 247.23,650.30 248.20,650.30C249.00,650.30 249.80,651.60 250.60,653.00C251.40,654.40 252.20,658.91 253.00,662.50C253.77,665.94 254.53,670.53 255.30,674.40C256.10,678.43 256.90,682.69 257.70,686.20C258.50,689.71 259.30,693.84 260.10,695.70C261.07,697.95 262.03,700.02 263.00,700.40C264.60,701.03 266.20,701.40 267.80,701.40C269.77,701.40 271.73,699.25 273.70,698.10C275.67,696.95 277.63,695.59 279.60,694.50C281.57,693.41 283.53,692.47 285.50,691.50C287.50,690.51 289.50,689.45 291.50,688.60C293.07,687.93 294.63,687.32 296.20,686.80C297.57,686.35 298.93,685.60 300.30,685.60C301.80,685.60 303.30,688.07 304.80,689.10C306.43,690.22 308.07,691.30 309.70,692.10C311.70,693.07 313.70,694.07 315.70,694.50C318.53,695.11 321.37,695.70 324.20,695.70C326.63,695.70 329.07,695.50 331.50,695.40C333.90,695.30 336.30,695.32 338.70,695.10C339.73,695.01 340.77,693.24 341.80,692.10C343.20,690.55 344.60,688.30 346.00,686.60C347.60,684.66 349.20,683.30 350.80,681.20C352.23,679.32 353.67,676.55 355.10,674.50C356.10,673.07 357.10,670.79 358.10,670.50C358.90,670.27 359.70,670.10 360.50,670.10C361.10,670.10 361.70,671.69 362.30,673.30C362.83,674.73 363.37,678.52 363.90,681.80C364.40,684.87 364.90,688.65 365.40,692.70C365.80,695.94 366.20,700.18 366.60,703.60C367.00,707.02 367.40,712.34 367.80,713.30C368.40,714.74 369.00,715.36 369.60,715.70C372.23,717.20 374.87,717.60 377.50,718.10C379.90,718.55 382.30,718.88 384.70,719.10C387.13,719.32 389.57,719.43 392.00,719.60" fill="none" stroke="#0f0a26" stroke-width="2.4" stroke-linejoin="round" stroke-dasharray="7.9 3.2" clip-path="url(#c5)"/>
<path d="M399.90,471.90C409.03,471.90 418.17,471.90 427.30,471.90C428.47,471.90 429.63,469.99 430.80,468.30C431.80,466.85 432.80,463.79 433.80,461.20C434.77,458.69 435.73,455.62 436.70,452.90C437.70,450.09 438.70,447.26 439.70,444.60C440.70,441.94 441.70,439.70 442.70,436.90C443.67,434.20 444.63,430.02 445.60,428.00C446.50,426.12 447.40,423.70 448.30,423.70C449.10,423.70 449.90,425.20 450.70,426.80C451.37,428.13 452.03,432.10 452.70,435.10C453.50,438.70 454.30,443.74 455.10,447.00C455.90,450.26 456.70,454.04 457.50,455.30C458.47,456.83 459.43,457.88 460.40,458.20C462.00,458.74 463.60,459.10 465.20,459.10C467.17,459.10 469.13,457.90 471.10,457.10C473.07,456.30 475.03,454.74 477.00,454.10C478.97,453.46 480.93,452.70 482.90,452.70C484.27,452.70 485.63,453.75 487.00,454.50C488.70,455.44 490.40,457.91 492.10,458.40C494.47,459.08 496.83,459.28 499.20,459.60C501.57,459.92 503.93,460.40 506.30,460.40C508.67,460.40 511.03,459.56 513.40,459.00C514.80,458.67 516.20,458.54 517.60,457.80C518.57,457.29 519.53,454.01 520.50,451.90C521.50,449.71 522.50,447.63 523.50,444.80C524.30,442.54 525.10,439.68 525.90,436.50C526.67,433.46 527.43,429.29 528.20,425.80C529.00,422.16 529.80,418.55 530.60,415.10C531.40,411.65 532.20,407.20 533.00,405.10C533.80,403.00 534.60,400.50 535.40,400.50C535.97,400.50 536.53,403.27 537.10,405.70C537.70,408.27 538.30,413.57 538.90,418.70C539.43,423.26 539.97,429.39 540.50,435.30C540.97,440.47 541.43,446.62 541.90,451.90C542.30,456.42 542.70,463.77 543.10,464.90C543.47,465.93 543.83,466.70 544.20,466.70C546.60,466.70 549.00,466.70 551.40,466.70C554.53,466.70 557.67,465.76 560.80,465.50C564.17,465.23 567.53,465.10 570.90,464.90" fill="none" stroke="#f6aa78" stroke-width="1.5" stroke-linejoin="round" stroke-dasharray="3.7 1.8" clip-path="url(#c6)"/>
<path d="M400.50,563.90C409.60,563.90 418.70,563.90 427.80,563.90C429.00,563.90 430.20,561.67 431.40,559.80C432.40,558.25 433.40,555.29 434.40,552.70C435.37,550.19 436.33,546.91 437.30,544.40C438.30,541.81 439.30,539.72 440.30,537.30C441.27,534.96 442.23,532.02 443.20,530.10C444.40,527.71 445.60,525.27 446.80,524.20C448.00,523.13 449.20,522.00 450.40,522.00C451.57,522.00 452.73,523.23 453.90,524.20C455.30,525.36 456.70,527.92 458.10,529.50C459.67,531.27 461.23,533.36 462.80,534.30C464.37,535.24 465.93,536.11 467.50,536.30C469.50,536.54 471.50,536.70 473.50,536.70C475.87,536.70 478.23,536.30 480.60,536.30C482.07,536.30 483.53,536.34 485.00,536.40C487.37,536.49 489.73,537.60 492.10,538.40C494.47,539.20 496.83,540.37 499.20,541.40C501.57,542.43 503.93,543.92 506.30,544.60C508.67,545.28 511.03,546.10 513.40,546.10C515.40,546.10 517.40,545.09 519.40,543.80C520.77,542.92 522.13,540.16 523.50,537.20C524.50,535.04 525.50,531.39 526.50,527.80C527.27,525.05 528.03,521.59 528.80,518.30C529.60,514.87 530.40,511.34 531.20,507.60C532.00,503.86 532.80,499.13 533.60,495.80C534.37,492.61 535.13,488.88 535.90,487.50C536.43,486.54 536.97,485.50 537.50,485.50C538.10,485.50 538.70,487.51 539.30,489.80C539.77,491.58 540.23,496.90 540.70,501.70C541.10,505.81 541.50,511.97 541.90,517.10C542.30,522.23 542.70,528.40 543.10,532.50C543.67,538.30 544.23,544.64 544.80,546.70C545.80,550.34 546.80,552.19 547.80,553.20C549.77,555.19 551.73,555.94 553.70,556.80C556.07,557.84 558.43,558.70 560.80,559.20C563.17,559.70 565.53,560.10 567.90,560.30C570.27,560.50 572.63,560.57 575.00,560.70" fill="none" stroke="#da7e98" stroke-width="1.5" stroke-linejoin="round" stroke-dasharray="3.7 1.8" clip-path="url(#c6)"/>
<path d="M400.50,631.00C405.07,631.00 409.63,631.00 414.20,631.00C415.40,631.00 416.60,628.83 417.80,626.90C418.97,625.02 420.13,621.01 421.30,617.40C422.50,613.68 423.70,609.00 424.90,604.40C426.07,599.93 427.23,594.37 428.40,590.10C429.40,586.44 430.40,581.67 431.40,580.10C432.30,578.69 433.20,577.30 434.10,577.30C434.97,577.30 435.83,579.61 436.70,581.30C437.70,583.26 438.70,586.48 439.70,589.50C440.70,592.52 441.70,596.28 442.70,599.60C443.67,602.81 444.63,606.58 445.60,609.10C446.60,611.71 447.60,614.36 448.60,615.60C449.77,617.05 450.93,618.23 452.10,618.60C453.70,619.11 455.30,619.50 456.90,619.50C459.27,619.50 461.63,618.28 464.00,617.40C466.37,616.52 468.73,614.98 471.10,613.80C473.47,612.62 475.83,611.12 478.20,610.30C480.57,609.48 482.93,608.40 485.30,608.40C487.57,608.40 489.83,610.02 492.10,611.10C494.47,612.22 496.83,614.37 499.20,615.30C501.57,616.23 503.93,617.13 506.30,617.40C508.67,617.67 511.03,617.90 513.40,617.90C515.40,617.90 517.40,616.61 519.40,615.30C520.97,614.27 522.53,611.98 524.10,609.40C525.30,607.42 526.50,604.18 527.70,601.10C528.67,598.62 529.63,595.49 530.60,592.80C531.40,590.58 532.20,587.54 533.00,586.30C533.80,585.06 534.60,583.70 535.40,583.70C535.97,583.70 536.53,585.46 537.10,587.40C537.60,589.11 538.10,594.50 538.60,598.70C539.10,602.90 539.60,608.58 540.10,612.90C540.60,617.22 541.10,623.32 541.60,624.80C542.27,626.77 542.93,628.18 543.60,628.30C546.20,628.77 548.80,628.90 551.40,628.90C559.27,628.90 567.13,628.90 575.00,628.90" fill="none" stroke="#b876b1" stroke-width="1.5" stroke-linejoin="round" stroke-dasharray="3.7 1.8" clip-path="url(#c6)"/>
<path d="M400.50,722.30C404.67,722.30 408.83,722.30 413.00,722.30C414.00,722.30 415.00,720.50 416.00,719.00C417.00,717.50 418.00,714.31 419.00,711.90C419.97,709.57 420.93,707.47 421.90,704.80C422.90,702.04 423.90,699.20 424.90,695.30C425.70,692.18 426.50,687.63 427.30,683.40C428.07,679.35 428.83,673.94 429.60,670.40C430.20,667.63 430.80,664.17 431.40,663.30C432.00,662.43 432.60,661.70 433.20,661.70C433.80,661.70 434.40,663.08 435.00,664.50C435.57,665.84 436.13,670.16 436.70,672.80C437.50,676.52 438.30,679.66 439.10,683.40C439.90,687.14 440.70,692.37 441.50,695.30C442.47,698.84 443.43,701.74 444.40,703.60C445.80,706.29 447.20,708.28 448.60,709.50C450.57,711.21 452.53,713.10 454.50,713.10C456.87,713.10 459.23,711.66 461.60,710.70C463.97,709.74 466.33,708.17 468.70,707.10C471.07,706.03 473.43,704.89 475.80,704.20C478.17,703.51 480.53,702.60 482.90,702.60C484.60,702.60 486.30,703.10 488.00,703.50C489.37,703.82 490.73,704.35 492.10,704.90C494.47,705.85 496.83,707.71 499.20,708.50C502.37,709.56 505.53,710.80 508.70,710.80C511.07,710.80 513.43,709.71 515.80,708.50C517.37,707.70 518.93,705.84 520.50,703.70C521.70,702.06 522.90,699.66 524.10,696.60C525.10,694.05 526.10,689.97 527.10,686.00C528.07,682.16 529.03,677.87 530.00,672.90C530.80,668.78 531.60,663.33 532.40,658.70C533.10,654.65 533.80,648.75 534.50,646.80C534.97,645.50 535.43,644.10 535.90,644.10C536.50,644.10 537.10,646.45 537.70,649.20C538.10,651.03 538.50,656.62 538.90,661.10C539.30,665.58 539.70,671.37 540.10,676.50C540.50,681.63 540.90,686.57 541.30,691.90C541.70,697.23 542.10,704.12 542.50,708.50C542.87,712.51 543.23,718.39 543.60,718.50C546.20,719.28 548.80,719.26 551.40,719.40C559.27,719.81 567.13,719.87 575.00,720.10" fill="none" stroke="#747282" stroke-width="1.5" stroke-linejoin="round" stroke-dasharray="3.7 1.8" clip-path="url(#c6)"/>
<path d="M585.20,490.10C590.40,490.00 595.60,489.93 600.80,489.80C602.93,489.75 605.07,489.74 607.20,489.60C608.80,489.50 610.40,486.73 612.00,484.80C613.57,482.91 615.13,479.85 616.70,477.70C618.27,475.55 619.83,473.54 621.40,471.80C623.40,469.58 625.40,468.20 627.40,465.90C628.57,464.56 629.73,462.76 630.90,461.20C632.30,459.33 633.70,455.60 635.10,455.60C636.07,455.60 637.03,457.46 638.00,458.80C639.10,460.32 640.20,463.69 641.30,465.00C642.00,465.83 642.70,466.68 643.40,466.90C645.17,467.46 646.93,467.58 648.70,467.80C651.87,468.20 655.03,468.31 658.20,468.70C659.80,468.90 661.40,469.50 663.00,469.50C665.33,469.50 667.67,469.38 670.00,469.20C672.30,469.02 674.60,467.64 676.90,466.40C679.20,465.16 681.50,462.84 683.80,460.90C686.10,458.96 688.40,456.52 690.70,454.70C692.97,452.91 695.23,451.66 697.50,449.90C699.37,448.45 701.23,447.43 703.10,445.10C704.23,443.69 705.37,440.95 706.50,438.20C707.43,435.94 708.37,432.92 709.30,429.90C710.20,426.99 711.10,423.44 712.00,420.30C712.93,417.04 713.87,413.58 714.80,410.70C715.70,407.92 716.60,404.50 717.50,403.10C718.43,401.65 719.37,400.10 720.30,400.10C721.20,400.10 722.10,400.20 723.00,400.40C723.70,400.56 724.40,403.47 725.10,406.50C725.80,409.53 726.50,418.29 727.20,424.40C727.87,430.22 728.53,436.25 729.20,442.30C729.90,448.65 730.60,455.65 731.30,461.60C732.00,467.55 732.70,475.09 733.40,478.20C734.07,481.16 734.73,483.95 735.40,484.40C737.47,485.80 739.53,486.29 741.60,486.40C745.27,486.60 748.93,486.70 752.60,486.70C754.40,486.70 756.20,486.70 758.00,486.70" fill="none" stroke="#f5a36c" stroke-width="2.4" stroke-linejoin="round" stroke-dasharray="7.9 3.2" clip-path="url(#c7)"/>
<path d="M583.00,564.50C594.07,564.23 605.13,564.36 616.20,563.70C618.27,563.58 620.33,561.10 622.40,558.70C624.07,556.76 625.73,552.13 627.40,548.80C628.97,545.67 630.53,542.43 632.10,539.30C633.30,536.91 634.50,533.33 635.70,532.20C636.70,531.26 637.70,530.30 638.70,530.30C639.83,530.30 640.97,534.30 642.10,535.80C643.90,538.18 645.70,540.33 647.50,541.70C650.27,543.81 653.03,545.42 655.80,546.40C658.97,547.52 662.13,548.26 665.30,548.80C668.43,549.33 671.57,550.00 674.70,550.00C677.87,550.00 681.03,549.42 684.20,548.80C686.57,548.34 688.93,547.07 691.30,546.00C693.67,544.93 696.03,543.79 698.40,542.20C700.37,540.88 702.33,539.60 704.30,537.00C705.90,534.88 707.50,529.46 709.10,525.10C710.67,520.83 712.23,515.15 713.80,510.90C715.40,506.56 717.00,501.75 718.60,499.10C720.00,496.78 721.40,493.80 722.80,493.80C723.77,493.80 724.73,494.99 725.70,496.70C726.47,498.06 727.23,505.60 728.00,510.90C728.80,516.43 729.60,523.48 730.40,529.80C731.20,536.12 732.00,545.17 732.80,548.80C733.97,554.09 735.13,558.90 736.30,559.50C739.47,561.14 742.63,561.50 745.80,561.80C749.87,562.19 753.93,562.27 758.00,562.50" fill="none" stroke="#d6708c" stroke-width="2.4" stroke-linejoin="round" stroke-dasharray="7.9 3.2" clip-path="url(#c7)"/>
<path d="M585.50,639.00C591.57,638.60 597.63,638.76 603.70,637.80C604.93,637.60 606.17,634.27 607.40,632.30C609.07,629.64 610.73,626.04 612.40,623.60C614.07,621.16 615.73,619.05 617.40,617.30C619.47,615.13 621.53,613.63 623.60,611.80C625.27,610.33 626.93,607.40 628.60,607.40C629.87,607.40 631.13,610.48 632.40,612.30C634.03,614.64 635.67,619.95 637.30,620.30C639.80,620.83 642.30,621.10 644.80,621.10C648.13,621.10 651.47,621.10 654.80,621.10C658.13,621.10 661.47,621.80 664.80,621.80C667.27,621.80 669.73,621.51 672.20,621.10C674.70,620.69 677.20,617.22 679.70,616.10C683.03,614.60 686.37,614.17 689.70,612.80C693.03,611.43 696.37,609.81 699.70,607.40C701.77,605.91 703.83,604.13 705.90,601.10C707.13,599.29 708.37,595.51 709.60,592.40C711.27,588.20 712.93,582.34 714.60,578.70C716.10,575.43 717.60,571.81 719.10,570.50C720.10,569.63 721.10,568.70 722.10,568.70C722.93,568.70 723.77,570.48 724.60,572.50C725.43,574.52 726.27,581.71 727.10,587.40C727.93,593.09 728.77,601.54 729.60,607.40C730.60,614.43 731.60,623.63 732.60,626.10C733.67,628.74 734.73,630.63 735.80,631.00C739.53,632.28 743.27,632.25 747.00,632.80C750.67,633.34 754.33,633.80 758.00,634.30" fill="none" stroke="#b067a8" stroke-width="2.4" stroke-linejoin="round" stroke-dasharray="7.9 3.2" clip-path="url(#c7)"/>
<path d="M583.00,722.40C588.93,722.40 594.87,722.40 600.80,722.40C601.97,722.40 603.13,720.01 604.30,718.30C605.50,716.54 606.70,713.94 607.90,711.20C609.07,708.53 610.23,704.82 611.40,701.70C612.60,698.49 613.80,695.20 615.00,692.20C616.17,689.29 617.33,686.40 618.50,683.90C619.50,681.75 620.50,678.90 621.50,678.00C622.47,677.13 623.43,676.30 624.40,676.30C625.20,676.30 626.00,678.49 626.80,680.40C627.60,682.31 628.40,686.68 629.20,689.90C629.97,692.98 630.73,696.64 631.50,699.30C632.30,702.07 633.10,705.81 633.90,706.50C635.10,707.53 636.30,708.20 637.50,708.20C639.47,708.20 641.43,707.10 643.40,707.10C645.37,707.10 647.33,707.61 649.30,707.90C651.70,708.26 654.10,708.71 656.50,709.10C659.63,709.61 662.77,710.19 665.90,710.60C668.27,710.91 670.63,711.40 673.00,711.40C676.07,711.40 679.13,711.37 682.20,711.30C684.70,711.25 687.20,709.47 689.70,708.30C692.20,707.13 694.70,705.71 697.20,704.10C699.70,702.49 702.20,701.15 704.70,698.40C706.33,696.60 707.97,693.69 709.60,689.60C710.87,686.43 712.13,679.75 713.40,674.70C714.63,669.78 715.87,664.41 717.10,659.70C718.37,654.86 719.63,649.21 720.90,646.00C721.47,644.56 722.03,642.50 722.60,642.50C723.43,642.50 724.27,645.25 725.10,648.50C725.77,651.10 726.43,660.93 727.10,667.20C727.93,675.04 728.77,684.12 729.60,690.90C730.60,699.03 731.60,710.10 732.60,712.10C733.67,714.24 734.73,715.55 735.80,715.80C739.53,716.67 743.27,716.73 747.00,717.00C750.67,717.26 754.33,717.40 758.00,717.60" fill="none" stroke="#5c596c" stroke-width="2.4" stroke-linejoin="round" stroke-dasharray="7.9 3.2" clip-path="url(#c7)"/>
<rect x="22.4" y="0.9" width="177.20" height="354.80" fill="none" stroke="#000" stroke-width="1.7"/>
<rect x="216.0" y="0.9" width="176.80" height="354.80" fill="none" stroke="#000" stroke-width="1.7"/>
<rect x="398.9" y="0.9" width="176.90" height="354.80" fill="none" stroke="#000" stroke-width="1.7"/>
<rect x="582.2" y="0.9" width="176.90" height="354.80" fill="none" stroke="#000" stroke-width="1.7"/>
<rect x="22.4" y="383.6" width="177.20" height="354.50" fill="none" stroke="#000" stroke-width="1.7"/>
<rect x="216.0" y="383.6" width="176.80" height="354.50" fill="none" stroke="#000" stroke-width="1.7"/>
<rect x="398.9" y="383.6" width="176.90" height="354.50" fill="none" stroke="#000" stroke-width="1.7"/>
<rect x="582.2" y="383.6" width="176.90" height="354.50" fill="none" stroke="#000" stroke-width="1.7"/>
<text x="55.20" y="14.6" font-size="11.2" fill="#000" stroke="#000" stroke-width="0.25" font-family="Liberation Sans, sans-serif" textLength="120.30" lengthAdjust="spacingAndGlyphs">H<tspan font-size="8.4" dy="1.9">2</tspan><tspan dy="-1.9">O:vol 10ML 3:1 ratio</tspan></text>
<text x="248.60" y="12.2" font-size="11.2" fill="#000" stroke="#000" stroke-width="0.25" font-family="Liberation Sans, sans-serif" textLength="120.50" lengthAdjust="spacingAndGlyphs">H<tspan font-size="8.4" dy="1.9">2</tspan><tspan dy="-1.9">O:vol 50ML 3:1 ratio</tspan></text>
<text x="432.00" y="12.5" font-size="11.2" fill="#000" stroke="#000" stroke-width="0.25" font-family="Liberation Sans, sans-serif" textLength="126.90" lengthAdjust="spacingAndGlyphs">H<tspan font-size="8.4" dy="1.9">2</tspan><tspan dy="-1.9">O:vol 10ML 10:1 ratio</tspan></text>
<text x="615.00" y="12.8" font-size="11.2" fill="#000" stroke="#000" stroke-width="0.25" font-family="Liberation Sans, sans-serif" textLength="127.10" lengthAdjust="spacingAndGlyphs">H<tspan font-size="8.4" dy="1.9">2</tspan><tspan dy="-1.9">O:vol 50ML 10:1 ratio</tspan></text>
<text x="33.20" y="396.5" font-size="11.2" fill="#000" stroke="#000" stroke-width="0.25" font-family="Liberation Sans, sans-serif" textLength="119.50" lengthAdjust="spacingAndGlyphs">CO<tspan font-size="8.4" dy="1.9">2</tspan><tspan dy="-1.9">:vol 10ML 3:1 ratio</tspan></text>
<text x="226.30" y="398.0" font-size="11.2" fill="#000" stroke="#000" stroke-width="0.25" font-family="Liberation Sans, sans-serif" textLength="119.80" lengthAdjust="spacingAndGlyphs">CO<tspan font-size="8.4" dy="1.9">2</tspan><tspan dy="-1.9">:vol 50ML 3:1 ratio</tspan></text>
<text x="409.50" y="395.8" font-size="11.2" fill="#000" stroke="#000" stroke-width="0.25" font-family="Liberation Sans, sans-serif" textLength="126.40" lengthAdjust="spacingAndGlyphs">CO<tspan font-size="8.4" dy="1.9">2</tspan><tspan dy="-1.9">:vol 10ML 10:1 ratio</tspan></text>
<text x="593.00" y="397.0" font-size="11.2" fill="#000" stroke="#000" stroke-width="0.25" font-family="Liberation Sans, sans-serif" textLength="126.40" lengthAdjust="spacingAndGlyphs">CO<tspan font-size="8.4" dy="1.9">2</tspan><tspan dy="-1.9">:vol 50ML 10:1 ratio</tspan></text>
<text x="89.20" y="88" font-size="11.2" fill="#ec7630" stroke="#ec7630" stroke-width="0.25" font-family="Liberation Sans, sans-serif"><tspan font-size="8.1" dy="-4">13</tspan><tspan dy="4">CO</tspan></text>
<text x="89.20" y="167.2" font-size="11.2" fill="#bd355c" stroke="#bd355c" stroke-width="0.25" font-family="Liberation Sans, sans-serif"><tspan font-size="8.1" dy="-4">12</tspan><tspan dy="4">CH</tspan><tspan font-size="8.1" dy="1.6">4</tspan></text>
<text x="89.20" y="258.9" font-size="11.2" fill="#842584" stroke="#842584" stroke-width="0.25" font-family="Liberation Sans, sans-serif"><tspan font-size="8.1" dy="-4">15</tspan><tspan dy="4">N</tspan><tspan font-size="8.1" dy="1.8">2</tspan></text>
<text x="89.10" y="351.8" font-size="11.2" fill="#15112e" stroke="#15112e" stroke-width="0.25" font-family="Liberation Sans, sans-serif">Ar</text>
<text x="282.50" y="92.2" font-size="11.2" fill="#ec7630" stroke="#ec7630" stroke-width="0.25" font-family="Liberation Sans, sans-serif"><tspan font-size="8.1" dy="-4">13</tspan><tspan dy="4">CO</tspan></text>
<text x="282.40" y="179.1" font-size="11.2" fill="#bd355c" stroke="#bd355c" stroke-width="0.25" font-family="Liberation Sans, sans-serif"><tspan font-size="8.1" dy="-4">12</tspan><tspan dy="4">CH</tspan><tspan font-size="8.1" dy="1.6">4</tspan></text>
<text x="282.50" y="252.6" font-size="11.2" fill="#842584" stroke="#842584" stroke-width="0.25" font-family="Liberation Sans, sans-serif"><tspan font-size="8.1" dy="-4">15</tspan><tspan dy="4">N</tspan><tspan font-size="8.1" dy="1.8">2</tspan></text>
<text x="282.10" y="350.9" font-size="11.2" fill="#15112e" stroke="#15112e" stroke-width="0.25" font-family="Liberation Sans, sans-serif">Ar</text>
<text x="465.60" y="60.6" font-size="11.2" fill="#ec7630" stroke="#ec7630" stroke-width="0.25" font-family="Liberation Sans, sans-serif"><tspan font-size="8.1" dy="-4">13</tspan><tspan dy="4">CO</tspan></text>
<text x="465.70" y="122" font-size="11.2" fill="#bd355c" stroke="#bd355c" stroke-width="0.25" font-family="Liberation Sans, sans-serif"><tspan font-size="8.1" dy="-4">12</tspan><tspan dy="4">CH</tspan><tspan font-size="8.1" dy="1.6">4</tspan></text>
<text x="465.70" y="199.8" font-size="11.2" fill="#842584" stroke="#842584" stroke-width="0.25" font-family="Liberation Sans, sans-serif"><tspan font-size="8.1" dy="-4">15</tspan><tspan dy="4">N</tspan><tspan font-size="8.1" dy="1.8">2</tspan></text>
<text x="465.50" y="351.9" font-size="11.2" fill="#15112e" stroke="#15112e" stroke-width="0.25" font-family="Liberation Sans, sans-serif">Ar</text>
<text x="648.80" y="116.9" font-size="11.2" fill="#ec7630" stroke="#ec7630" stroke-width="0.25" font-family="Liberation Sans, sans-serif"><tspan font-size="8.1" dy="-4">13</tspan><tspan dy="4">CO</tspan></text>
<text x="648.80" y="195.2" font-size="11.2" fill="#bd355c" stroke="#bd355c" stroke-width="0.25" font-family="Liberation Sans, sans-serif"><tspan font-size="8.1" dy="-4">12</tspan><tspan dy="4">CH</tspan><tspan font-size="8.1" dy="1.6">4</tspan></text>
<text x="648.80" y="320" font-size="11.2" fill="#842584" stroke="#842584" stroke-width="0.25" font-family="Liberation Sans, sans-serif"><tspan font-size="8.1" dy="-4">15</tspan><tspan dy="4">N</tspan><tspan font-size="8.1" dy="1.8">2</tspan></text>
<text x="648.60" y="352.5" font-size="11.2" fill="#15112e" stroke="#15112e" stroke-width="0.25" font-family="Liberation Sans, sans-serif">Ar</text>
<text x="100.30" y="454.1" font-size="11.2" fill="#ec7630" stroke="#ec7630" stroke-width="0.25" font-family="Liberation Sans, sans-serif"><tspan font-size="8.1" dy="-4">13</tspan><tspan dy="4">CO</tspan></text>
<text x="100.30" y="583.2" font-size="11.2" fill="#bd355c" stroke="#bd355c" stroke-width="0.25" font-family="Liberation Sans, sans-serif"><tspan font-size="8.1" dy="-4">12</tspan><tspan dy="4">CH</tspan><tspan font-size="8.1" dy="1.6">4</tspan></text>
<text x="100.30" y="644.6" font-size="11.2" fill="#842584" stroke="#842584" stroke-width="0.25" font-family="Liberation Sans, sans-serif"><tspan font-size="8.1" dy="-4">15</tspan><tspan dy="4">N</tspan><tspan font-size="8.1" dy="1.8">2</tspan></text>
<text x="100.10" y="724.6" font-size="11.2" fill="#15112e" stroke="#15112e" stroke-width="0.25" font-family="Liberation Sans, sans-serif">Ar</text>
<text x="293.50" y="466.3" font-size="11.2" fill="#ec7630" stroke="#ec7630" stroke-width="0.25" font-family="Liberation Sans, sans-serif"><tspan font-size="8.1" dy="-4">13</tspan><tspan dy="4">CO</tspan></text>
<text x="293.50" y="597.8" font-size="11.2" fill="#bd355c" stroke="#bd355c" stroke-width="0.25" font-family="Liberation Sans, sans-serif"><tspan font-size="8.1" dy="-4">12</tspan><tspan dy="4">CH</tspan><tspan font-size="8.1" dy="1.6">4</tspan></text>
<text x="293.50" y="648.5" font-size="11.2" fill="#842584" stroke="#842584" stroke-width="0.25" font-family="Liberation Sans, sans-serif"><tspan font-size="8.1" dy="-4">15</tspan><tspan dy="4">N</tspan><tspan font-size="8.1" dy="1.8">2</tspan></text>
<text x="293.10" y="722.5" font-size="11.2" fill="#15112e" stroke="#15112e" stroke-width="0.25" font-family="Liberation Sans, sans-serif">Ar</text>
<text x="476.80" y="478.3" font-size="11.2" fill="#ec7630" stroke="#ec7630" stroke-width="0.25" font-family="Liberation Sans, sans-serif"><tspan font-size="8.1" dy="-4">13</tspan><tspan dy="4">CO</tspan></text>
<text x="476.80" y="569.9" font-size="11.2" fill="#bd355c" stroke="#bd355c" stroke-width="0.25" font-family="Liberation Sans, sans-serif"><tspan font-size="8.1" dy="-4">12</tspan><tspan dy="4">CH</tspan><tspan font-size="8.1" dy="1.6">4</tspan></text>
<text x="476.80" y="636.9" font-size="11.2" fill="#842584" stroke="#842584" stroke-width="0.25" font-family="Liberation Sans, sans-serif"><tspan font-size="8.1" dy="-4">15</tspan><tspan dy="4">N</tspan><tspan font-size="8.1" dy="1.8">2</tspan></text>
<text x="476.50" y="728.6" font-size="11.2" fill="#15112e" stroke="#15112e" stroke-width="0.25" font-family="Liberation Sans, sans-serif">Ar</text>
<text x="659.80" y="491.9" font-size="11.2" fill="#ec7630" stroke="#ec7630" stroke-width="0.25" font-family="Liberation Sans, sans-serif"><tspan font-size="8.1" dy="-4">13</tspan><tspan dy="4">CO</tspan></text>
<text x="659.80" y="565.8" font-size="11.2" fill="#bd355c" stroke="#bd355c" stroke-width="0.25" font-family="Liberation Sans, sans-serif"><tspan font-size="8.1" dy="-4">12</tspan><tspan dy="4">CH</tspan><tspan font-size="8.1" dy="1.6">4</tspan></text>
<text x="659.80" y="640.5" font-size="11.2" fill="#842584" stroke="#842584" stroke-width="0.25" font-family="Liberation Sans, sans-serif"><tspan font-size="8.1" dy="-4">15</tspan><tspan dy="4">N</tspan><tspan font-size="8.1" dy="1.8">2</tspan></text>
<text x="659.80" y="723.8" font-size="11.2" fill="#15112e" stroke="#15112e" stroke-width="0.25" font-family="Liberation Sans, sans-serif">Ar</text>
<line x1="55.38" y1="356" x2="55.38" y2="359" stroke="#000" stroke-width="1"/>
<text x="55.38" y="366.8" font-size="11.5" fill="#000" stroke="#000" stroke-width="0.25" text-anchor="middle" font-family="Liberation Sans, sans-serif" >50</text>
<line x1="111.00" y1="356" x2="111.00" y2="359" stroke="#000" stroke-width="1"/>
<text x="111.0" y="366.8" font-size="11.5" fill="#000" stroke="#000" stroke-width="0.25" text-anchor="middle" font-family="Liberation Sans, sans-serif" >100</text>
<line x1="166.62" y1="356" x2="166.62" y2="359" stroke="#000" stroke-width="1"/>
<text x="166.62" y="366.8" font-size="11.5" fill="#000" stroke="#000" stroke-width="0.25" text-anchor="middle" font-family="Liberation Sans, sans-serif" >150</text>
<text x="110.5" y="378.5" font-size="11.5" fill="#000" stroke="#000" stroke-width="0.25" text-anchor="middle" font-family="Liberation Sans, sans-serif" textLength="84.2" lengthAdjust="spacingAndGlyphs">Temperature (K)</text>
<line x1="22.30" y1="738" x2="22.30" y2="741" stroke="#000" stroke-width="1"/>
<text x="22.3" y="748.8" font-size="11.5" fill="#000" stroke="#000" stroke-width="0.25" text-anchor="middle" font-family="Liberation Sans, sans-serif" >20</text>
<line x1="66.65" y1="738" x2="66.65" y2="741" stroke="#000" stroke-width="1"/>
<text x="66.65" y="748.8" font-size="11.5" fill="#000" stroke="#000" stroke-width="0.25" text-anchor="middle" font-family="Liberation Sans, sans-serif" >40</text>
<line x1="111.00" y1="738" x2="111.00" y2="741" stroke="#000" stroke-width="1"/>
<text x="111.0" y="748.8" font-size="11.5" fill="#000" stroke="#000" stroke-width="0.25" text-anchor="middle" font-family="Liberation Sans, sans-serif" >60</text>
<line x1="155.35" y1="738" x2="155.35" y2="741" stroke="#000" stroke-width="1"/>
<text x="155.35" y="748.8" font-size="11.5" fill="#000" stroke="#000" stroke-width="0.25" text-anchor="middle" font-family="Liberation Sans, sans-serif" >80</text>
<line x1="199.70" y1="738" x2="199.70" y2="741" stroke="#000" stroke-width="1"/>
<text x="199.7" y="748.8" font-size="11.5" fill="#000" stroke="#000" stroke-width="0.25" text-anchor="middle" font-family="Liberation Sans, sans-serif" >100</text>
<text x="110.7" y="760.3" font-size="11.5" fill="#000" stroke="#000" stroke-width="0.25" text-anchor="middle" font-family="Liberation Sans, sans-serif" textLength="84.2" lengthAdjust="spacingAndGlyphs">Temperature (K)</text>
<text transform="translate(10.9,266.50) rotate(-90)" x="0" y="0" font-size="11.2" fill="#000" stroke="#000" stroke-width="0.25" font-family="Liberation Sans, sans-serif" textLength="82.90" lengthAdjust="spacingAndGlyphs">Desorption rate</text>
<text transform="translate(10.9,180.70) rotate(-90)" x="0" y="0" font-size="11.2" fill="#000" stroke="#000" stroke-width="0.25" font-family="Liberation Sans, sans-serif" textLength="90.80" lengthAdjust="spacingAndGlyphs">(ML K<tspan font-size="7.8" dy="-4.2">−1</tspan><tspan dy="4.2">) + offset</tspan></text>
<text transform="translate(10.9,648.70) rotate(-90)" x="0" y="0" font-size="11.2" fill="#000" stroke="#000" stroke-width="0.25" font-family="Liberation Sans, sans-serif" textLength="82.70" lengthAdjust="spacingAndGlyphs">Desorption rate</text>
<text transform="translate(10.9,563.10) rotate(-90)" x="0" y="0" font-size="11.2" fill="#000" stroke="#000" stroke-width="0.25" font-family="Liberation Sans, sans-serif" textLength="90.30" lengthAdjust="spacingAndGlyphs">(ML K<tspan font-size="7.8" dy="-4.2">−1</tspan><tspan dy="4.2">) + offset</tspan></text>
</svg>
</body></html>
